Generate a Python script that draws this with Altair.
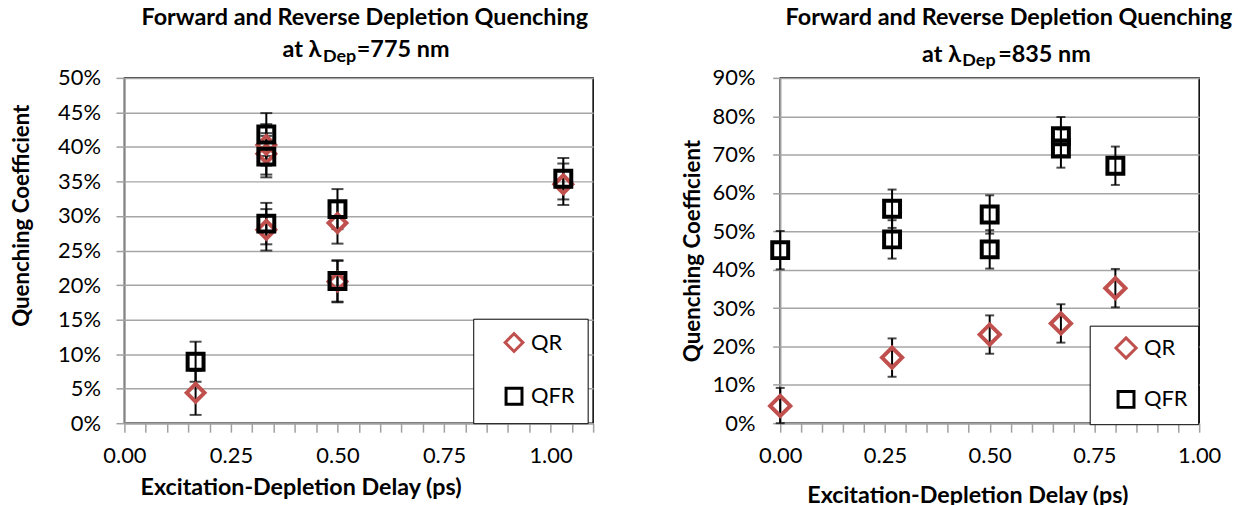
import altair as alt
import pandas as pd

# ---------------- data: left panel (lambda_Dep = 775 nm) ----------------
l_qr_x = [0.167, 0.333, 0.333, 0.333, 0.5, 0.5, 1.03]
l_qr_y = [4.4, 40.3, 39.0, 28.0, 29.0, 20.5, 34.6]
l_qr_e = [3.2, 3.0, 3.0, 3.0, 3.0, 3.0, 3.0]
l_qfr_x = [0.167, 0.333, 0.333, 0.333, 0.5, 0.5, 1.03]
l_qfr_y = [8.9, 41.8, 38.6, 28.9, 31.0, 20.6, 35.4]
l_qfr_e = [2.9, 3.1, 3.0, 3.0, 2.9, 3.0, 3.0]

# ---------------- data: right panel (lambda_Dep = 835 nm) ----------------
r_qr_x = [0.0, 0.267, 0.5, 0.67, 0.8]
r_qr_y = [4.5, 17.1, 23.1, 26.0, 35.2]
r_qr_e = [4.7, 5.0, 5.0, 5.0, 5.0]
r_qfr_x = [0.0, 0.267, 0.267, 0.5, 0.5, 0.67, 0.67, 0.8]
r_qfr_y = [45.1, 55.9, 47.9, 54.4, 45.3, 74.8, 71.6, 67.1]
r_qfr_e = [5.0, 5.0, 5.0, 5.0, 5.0, 5.0, 5.0, 5.0]

series_names = ["QR", "QFR"]
series_colors = ["#C0504D", "#000000"]
series_shapes = ["diamond", "square"]

title_line1 = "Forward and Reverse Depletion Quenching"
title_at = "at λ"
title_sub = "Dep"
left_wl = "=775 nm"
right_wl = "=835 nm"
x_title = "Excitation-Depletion Delay (ps)"
y_title = "Quenching Coefficient"

left_xticks = [round(i * 0.05, 2) for i in range(23)]
right_xticks = [round(i * 0.05, 2) for i in range(21)]
left_yticks = list(range(0, 55, 5))
right_yticks = list(range(0, 100, 10))

FONT = "Lato"


def frame(qr_x, qr_y, qr_e, qfr_x, qfr_y, qfr_e):
    rows = []
    for x, y, e in zip(qr_x, qr_y, qr_e):
        rows.append({"series": "QR", "x": x, "y": y, "err": e})
    for x, y, e in zip(qfr_x, qfr_y, qfr_e):
        rows.append({"series": "QFR", "x": x, "y": y, "err": e})
    return pd.DataFrame(rows)


def text_layer(txt, x, y, size, align):
    return alt.Chart(pd.DataFrame({"t": [txt]})).mark_text(
        font=FONT, fontSize=size, fontWeight="bold", align=align,
        baseline="alphabetic", color="black"
    ).encode(text="t:N", x=alt.value(x), y=alt.value(y))


AXIS_STYLE = dict(
    domainColor="#a0a0a0", domainWidth=1.5, tickColor="#a0a0a0", tickWidth=1.5,
    gridColor="#a6a6a6", gridWidth=1.5, labelFont=FONT, labelFontSize=22,
    labelColor="black", titleFont=FONT, titleFontWeight="bold", titleColor="black",
)


def panel(df, xmax, xticks, yticks, ymax, w, h, cfg):
    xscale = alt.Scale(domain=[0, xmax], nice=False, zero=False)
    yscale = alt.Scale(domain=[0, ymax], nice=False, zero=True, clamp=True)
    xaxis = alt.Axis(
        values=xticks,
        labelExpr="abs(datum.value*4 - round(datum.value*4)) < 0.001 ? format(datum.value, '.2f') : ''",
        tickSize=9, labelPadding=13, grid=False, title=x_title, labelFlush=False,
        labelOverlap=False,
        titleX=cfg["xtitle_x"], titleY=cfg["xtitle_y"], titleAlign="center",
        titleBaseline="alphabetic", titleFontSize=23.4, **AXIS_STYLE,
    )
    yaxis = alt.Axis(
        values=yticks, labelExpr="datum.value + '%'", labelFlush=False,
        labelOverlap=False,
        tickSize=cfg["ytick"], labelPadding=cfg["ylabpad"], grid=True, title=y_title,
        titleX=cfg["ytitle_x"], titleY=cfg["ytitle_y"], titleAlign="center",
        titleBaseline="middle", titleAngle=270, titleFontSize=22.4, **AXIS_STYLE,
    )
    base = alt.Chart(df)
    err = base.transform_calculate(
        lo="datum.y - datum.err", hi="datum.y + datum.err"
    ).mark_errorbar(
        ticks={"size": cfg["cap"], "thickness": 2, "color": "black"},
        rule={"strokeWidth": 2, "color": "black"},
        color="black",
    ).encode(
        x=alt.X("x:Q", scale=xscale, axis=xaxis),
        y=alt.Y("lo:Q", scale=yscale, axis=yaxis),
        y2="hi:Q",
    )
    pts = base.mark_point(filled=False, strokeWidth=4, opacity=1).encode(
        x=alt.X("x:Q", scale=xscale, axis=xaxis),
        y=alt.Y("y:Q", scale=yscale, axis=yaxis),
        color=alt.Color(
            "series:N",
            scale=alt.Scale(domain=series_names, range=series_colors),
            legend=alt.Legend(
                title=None, orient="none", legendX=cfg["legx"], legendY=cfg["legy"],
                fillColor="white", strokeColor="black", padding=cfg["legpad"],
                symbolOffset=cfg["symoff"], rowPadding=cfg["rowpad"],
                labelFont=FONT, labelFontSize=22, labelOffset=6, labelColor="black",
                labelExpr="datum.label + '" + " " * cfg["spaces"] + "'",
                symbolSize=150, symbolStrokeWidth=3,
            ),
        ),
        shape=alt.Shape(
            "series:N",
            scale=alt.Scale(domain=series_names, range=series_shapes),
        ),
        size=alt.Size(
            "series:N",
            scale=alt.Scale(domain=series_names, range=cfg["sizes"]),
            legend=None,
        ),
    )
    t = cfg["titles"]
    layers = [
        err, pts,
        text_layer(title_line1, t["l1x"], -53, 23.5, "center"),
        text_layer(title_at, t["atx"], t["mainy"], 23.5, "right"),
        text_layer(title_sub, t["subx"], t["suby"], 18, "left"),
        text_layer(t["wl"], t["wlx"], t["mainy"], 23.5, "left"),
    ]
    return alt.layer(*layers).properties(width=w, height=h)


left = panel(
    frame(l_qr_x, l_qr_y, l_qr_e, l_qfr_x, l_qfr_y, l_qfr_e),
    1.1, left_xticks, left_yticks, 50, 471, 347,
    {
        "xtitle_x": 177, "xtitle_y": 72, "ytick": 8.5, "ylabpad": 15.5,
        "ytitle_x": -103.5, "ytitle_y": 138, "cap": 12,
        "legx": 350.5, "legy": 242, "legpad": 13, "symoff": 17, "rowpad": 25,
        "spaces": 3, "sizes": [320, 256],
        "titles": {"l1x": 241.5, "atx": 198, "subx": 199.5, "wlx": 233.5,
                   "mainy": -21.3, "suby": -16.3, "wl": left_wl},
    },
)

right = panel(
    frame(r_qr_x, r_qr_y, r_qr_e, r_qfr_x, r_qfr_y, r_qfr_e),
    1.0, right_xticks, right_yticks, 90, 421, 347,
    {
        "xtitle_x": 188, "xtitle_y": 80, "ytick": 7.6, "ylabpad": 17.8,
        "ytitle_x": -88.5, "ytitle_y": 173.5, "cap": 9,
        "legx": 311, "legy": 249, "legpad": 10.5, "symoff": 14, "rowpad": 20.6,
        "spaces": 2, "sizes": [412, 256],
        "titles": {"l1x": 229.7, "atx": 181.7, "subx": 183, "wlx": 219,
                   "mainy": -15.7, "suby": -12, "wl": right_wl},
    },
)

chart = alt.hconcat(left, right, spacing=85).resolve_scale(
    color="independent", shape="independent", size="independent",
    x="independent", y="independent",
).resolve_legend(color="independent", shape="independent").properties(
    padding={"left": 1, "top": -4, "right": 0, "bottom": 0},
    background="white",
).configure_view(
    stroke="black", strokeWidth=1.5
)

chart.save("out.html", embed_options={"renderer": "svg", "actions": False})
